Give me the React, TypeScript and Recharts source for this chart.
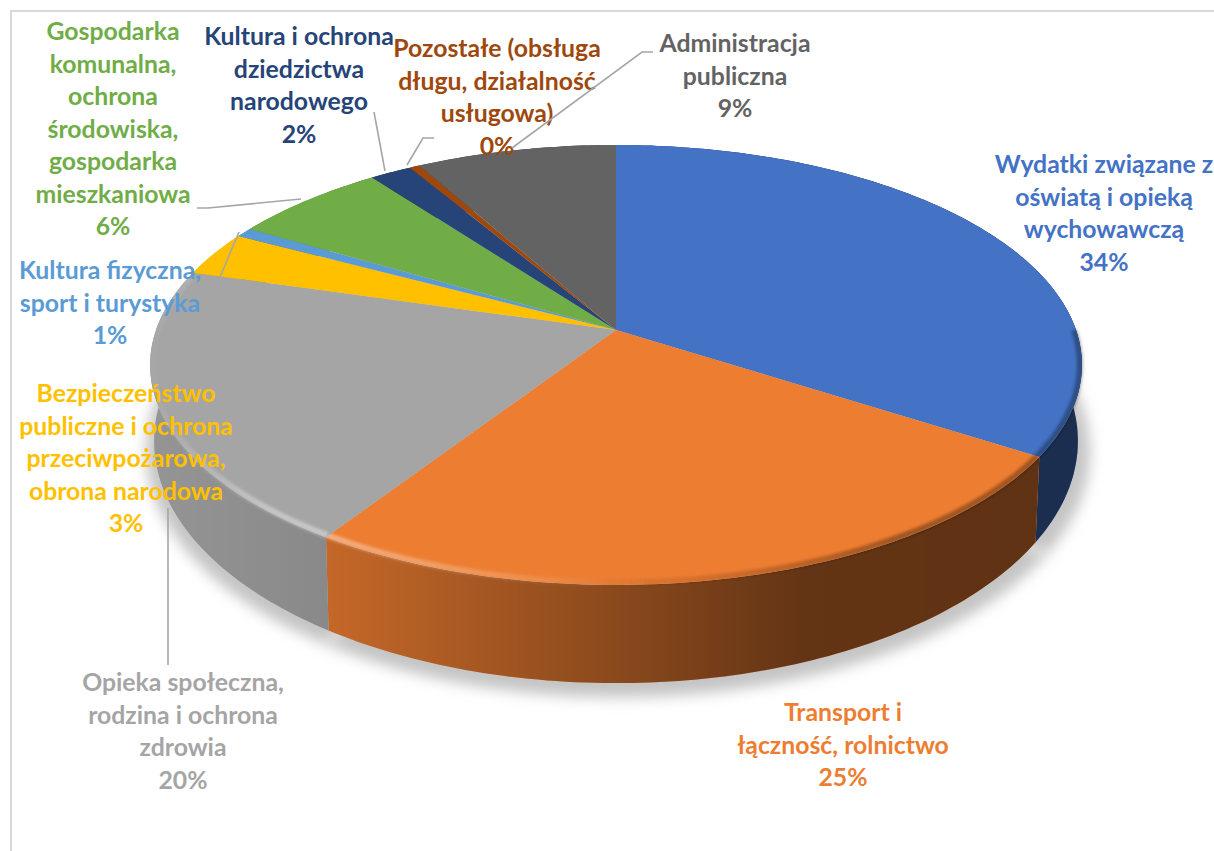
import { Pie, PieChart } from 'recharts'

const categories = [
  'Wydatki związane z oświatą i opieką wychowawczą',
  'Transport i łączność, rolnictwo',
  'Opieka społeczna, rodzina i ochrona zdrowia',
  'Bezpieczeństwo publiczne i ochrona przeciwpożarowa, obrona narodowa',
  'Kultura fizyczna, sport i turystyka',
  'Gospodarka komunalna, ochrona środowiska, gospodarka mieszkaniowa',
  'Kultura i ochrona dziedzictwa narodowego',
  'Pozostałe (obsługa długu, działalność usługowa)',
  'Administracja publiczna',
]
const values = [34.1, 25.1, 20.3, 3.3, 0.7, 6.3, 1.7, 0.4, 8.1]
const colors = ['#4472C4', '#ED7D31', '#A5A5A5', '#FFC000', '#5B9BD5', '#70AD47', '#264478', '#9E480E', '#636363']
const labelLines = [
  ['Wydatki związane z', 'oświatą i opieką', 'wychowawczą', '34%'],
  ['Transport i', 'łączność, rolnictwo', '25%'],
  ['Opieka społeczna,', 'rodzina i ochrona', 'zdrowia', '20%'],
  ['Bezpieczeństwo', 'publiczne i ochrona', 'przeciwpożarowa,', 'obrona narodowa', '3%'],
  ['Kultura fizyczna,', 'sport i turystyka', '1%'],
  ['Gospodarka', 'komunalna,', 'ochrona', 'środowiska,', 'gospodarka', 'mieszkaniowa', '6%'],
  ['Kultura i ochrona', 'dziedzictwa', 'narodowego', '2%'],
  ['Pozostałe (obsługa', 'długu, działalność', 'usługowa)', '0%'],
  ['Administracja', 'publiczna', '9%'],
]

// label centre x and first baseline, same order as the categories
const labelAnchors = [
  [1104, 173],
  [843, 721],
  [183, 691],
  [126, 402],
  [110, 279],
  [113, 40],
  [299, 45],
  [497, 57],
  [735, 52],
]
const leaders = [
  null,
  null,
  '168,508 168,665',
  null,
  '239,232 220,277',
  '197,208 208,208 301,199',
  '374,112 385,171',
  '434,138 423,138 407,165',
  '653,52 642,52 512,148',
]

const chartData = categories.map((name, i) => ({ name, value: values[i], fill: colors[i] }))

const CX = 616
const CY = 330
const RADIUS = 460
const TILT = 214.4 / 460
const PERSPECTIVE = 0.159
const FONT = 'Lato, Carlito, sans-serif'

type Rim = { a: number; b: number; cx: number; cy: number }
const topRim: Rim = { a: RADIUS, b: RADIUS * TILT, cx: CX, cy: CY }
const bottomRim: Rim = { a: 456, b: 236, cx: 616, cy: 402.5 }
const shadowRim: Rim = { a: 466, b: 240, cx: 618, cy: 412 }
const bevelRim: Rim = { a: RADIUS - 2, b: RADIUS * TILT - 2, cx: CX, cy: CY }

// recharts angle (counter-clockwise from east) -> screen point on the tilted disc
function project(angle: number, rim: Rim) {
  const t = ((90 - angle) * Math.PI) / 180
  const u = Math.sin(t)
  const v = Math.cos(t)
  const d = 1 + PERSPECTIVE * v
  return [rim.cx + (rim.a * u) / d, rim.cy - (rim.b * v) / d]
}

function arc(from: number, to: number, rim: Rim) {
  const steps = Math.max(2, Math.ceil(Math.abs(to - from)))
  const pts = []
  for (let i = 0; i <= steps; i++) {
    const p = project(from + ((to - from) * i) / steps, rim)
    pts.push(`${p[0].toFixed(1)} ${p[1].toFixed(1)}`)
  }
  return pts
}

function ShadowShape(props: any) {
  const { startAngle, endAngle } = props
  const d = `M${shadowRim.cx} ${shadowRim.cy}L${arc(startAngle, endAngle, shadowRim).join('L')}Z`
  return <path d={d} fill="#c4c4c4" filter="url(#pieShadow)" />
}

function SideShape(props: any) {
  const { startAngle, endAngle, fill } = props
  const d = `M${arc(startAngle, endAngle, topRim).join('L')}L${arc(endAngle, startAngle, bottomRim).join('L')}Z`
  return (
    <g>
      <path d={d} fill={fill} />
      <path d={d} fill="url(#wallShade)" />
    </g>
  )
}

function TopShape(props: any) {
  const { startAngle, endAngle, fill, cx, cy } = props
  const d = `M${cx} ${cy}L${arc(startAngle, endAngle, topRim).join('L')}Z`
  // soft bevel only on the part of the rim that faces the viewer
  const from = Math.min(startAngle, 0)
  const to = Math.max(endAngle, -195)
  const bevel = from > to ? `M${arc(from, to, bevelRim).join('L')}` : null
  return (
    <g>
      <path d={d} fill={fill} />
      {bevel && <path d={bevel} fill="none" stroke="url(#bevelShade)" strokeWidth={6} filter="url(#bevelBlur)" />}
    </g>
  )
}

function SliceLabel(props: any) {
  const { index } = props
  const lines = labelLines[index]
  const [x, y] = labelAnchors[index]
  const leader = leaders[index]
  return (
    <g>
      {leader && <polyline points={leader} fill="none" stroke="#a6a6a6" strokeWidth={1.6} />}
      <text x={x} y={y} textAnchor="middle" fontFamily={FONT} fontWeight={700} fontSize={24.8} fill={colors[index]}>
        {lines.map((line, i) => (
          <tspan key={i} x={x} y={y + i * 32.5}>
            {line}
          </tspan>
        ))}
      </text>
    </g>
  )
}

export default function App() {
  const pieProps = {
    data: chartData,
    dataKey: 'value',
    nameKey: 'name',
    cx: CX,
    cy: CY,
    outerRadius: RADIUS,
    startAngle: 90,
    endAngle: -270,
    stroke: 'none',
    isAnimationActive: false,
  }
  return (
    <div style={{ position: 'absolute', left: 0, top: 0, width: 1214, height: 851, background: '#fff', overflow: 'hidden' }}>
      <div
        style={{
          position: 'absolute',
          left: 10,
          top: 10,
          width: 1300,
          height: 1000,
          border: '2px solid #d9d9d9',
        }}
      />
      <div style={{ position: 'absolute', left: 0, top: 0 }}>
        <PieChart width={1214} height={851} margin={{ top: 0, right: 0, bottom: 0, left: 0 }}>
          <defs>
            <linearGradient id="wallShade" gradientUnits="userSpaceOnUse" x1={150} x2={1083} y1={0} y2={0}>
              <stop offset="0" stopColor="#000" stopOpacity={0.1} />
              <stop offset="0.19" stopColor="#000" stopOpacity={0.17} />
              <stop offset="0.48" stopColor="#000" stopOpacity={0.4} />
              <stop offset="0.7" stopColor="#000" stopOpacity={0.58} />
              <stop offset="1" stopColor="#000" stopOpacity={0.6} />
            </linearGradient>
            <linearGradient id="bevelShade" gradientUnits="userSpaceOnUse" x1={150} x2={1083} y1={0} y2={0}>
              <stop offset="0" stopColor="#fff" stopOpacity={0.02} />
              <stop offset="0.12" stopColor="#fff" stopOpacity={0.35} />
              <stop offset="0.19" stopColor="#fff" stopOpacity={0.38} />
              <stop offset="0.42" stopColor="#fff" stopOpacity={0.12} />
              <stop offset="0.55" stopColor="#000" stopOpacity={0.08} />
              <stop offset="0.8" stopColor="#000" stopOpacity={0.32} />
              <stop offset="1" stopColor="#000" stopOpacity={0.32} />
            </linearGradient>
            <filter id="pieShadow" x="-20%" y="-20%" width="140%" height="140%">
              <feGaussianBlur stdDeviation={7} />
            </filter>
            <filter id="bevelBlur" x="-20%" y="-20%" width="140%" height="140%">
              <feGaussianBlur stdDeviation={1.8} />
            </filter>
          </defs>
          <Pie {...pieProps} shape={ShadowShape} />
          <Pie {...pieProps} shape={SideShape} />
          <Pie {...pieProps} shape={TopShape} label={SliceLabel} labelLine={false} />
        </PieChart>
      </div>
    </div>
  )
}
